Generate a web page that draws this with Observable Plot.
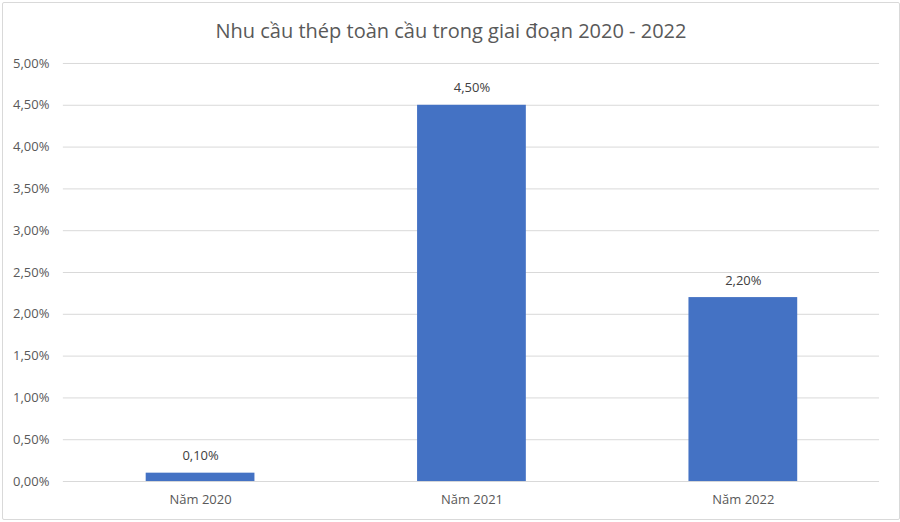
<!DOCTYPE html>
<html><head><meta charset="utf-8">
<script src="https://cdn.jsdelivr.net/npm/d3@7"></script>
<script src="https://cdn.jsdelivr.net/npm/@observablehq/plot@0.6"></script>
<style>
body{margin:0;background:#fff;font-family:"Open Sans",Lato,sans-serif;}
#wrap{position:relative;width:896px;height:516px;margin:2px;border:1px solid #d9d9d9;border-radius:2px;overflow:hidden;}
#title{position:absolute;top:14px;left:0;width:896px;text-align:center;font-size:20px;color:#595959;}
#chart{position:absolute;top:48px;left:-2px;}
</style></head>
<body><div id="wrap"><div id="title">Nhu cầu thép toàn cầu trong giai đoạn 2020 - 2022</div><div id="chart"></div></div>
<script>
const categories = ["Năm 2020", "Năm 2021", "Năm 2022"];
const values = [0.10, 4.50, 2.20];
const yTicks = [0, 0.5, 1, 1.5, 2, 2.5, 3, 3.5, 4, 4.5, 5];
const data = categories.map((c, i) => ({cat: c, v: values[i]}));
const fmt = v => v.toFixed(2).replace(".", ",") + "%";
const plot = Plot.plot({
  width: 900, height: 465,
  marginTop: 12, marginBottom: 34, marginLeft: 62, marginRight: 20,
  style: {fontFamily: '"Open Sans", Lato, sans-serif', fontSize: "13px", color: "#595959", background: "transparent"},
  x: {domain: categories, paddingInner: 0.6, paddingOuter: 0.3, label: null, tickSize: 0, tickPadding: 13},
  y: {domain: [0, 5], label: null, ticks: yTicks, tickFormat: fmt, tickSize: 0, tickPadding: 14},
  marks: [
    Plot.gridY(yTicks, {stroke: "#d9d9d9", strokeOpacity: 1, strokeWidth: 1}),
    Plot.barY(data, {x: "cat", y: "v", fill: "#4472c4"}),
    Plot.text(data, {x: "cat", y: "v", text: d => fmt(d.v), dy: -17, fill: "#404040", fontSize: 13})
  ]
});
document.getElementById("chart").appendChild(plot);
</script></body></html>
